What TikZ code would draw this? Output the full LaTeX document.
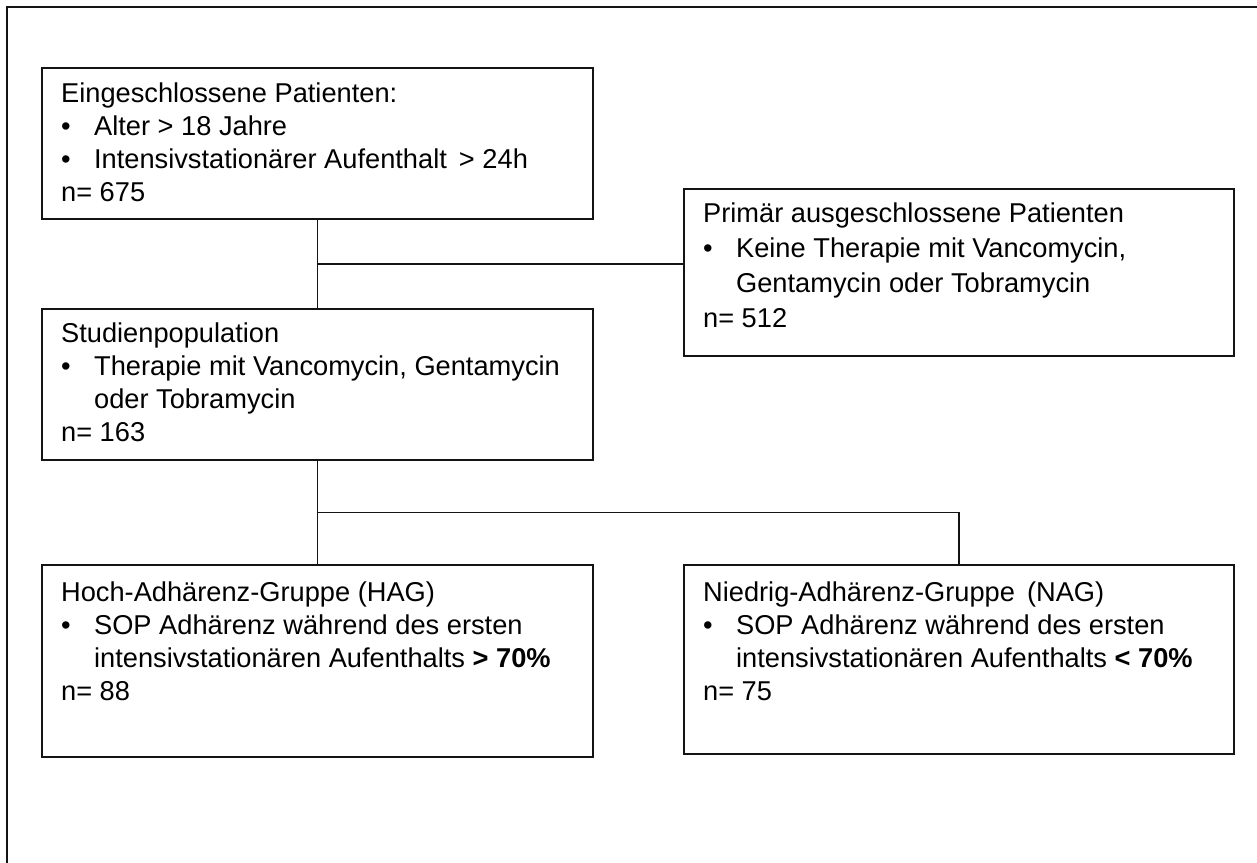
\documentclass[tikz,border=0pt]{standalone}
\usepackage{fontspec}
\setmainfont{Liberation Sans}
\usetikzlibrary{calc}
\definecolor{linegray}{HTML}{141414}
\newcommand{\bul}{\par\hangindent=6.6mm\hangafter=1\makebox[6.6mm][l]{\textbullet}}
\newcommand{\boxtext}[5][18.8pt]{%
  \begin{minipage}[c][#3][t]{#2}%
    \vspace*{#4}\fontsize{15.5}{#1}\selectfont\raggedright\strut #5%
  \end{minipage}}

\begin{document}
\begin{tikzpicture}[x=0.2mm, y=-0.2mm,
    flowbox/.style={draw=linegray, line width=1.3pt, anchor=north west,
                    inner xsep=3.8mm, inner ysep=0pt},
    link/.style={draw=linegray, line width=0.9pt}]
  \useasboundingbox (0,0) rectangle (1257,863);

  %% Outer frame (cut off at right and bottom)
  \draw[linegray, line width=1.3pt] (1257,7) -- (7,7) -- (7,863);

  %% Boxes
  \node[flowbox] (incl) at (41,67) {\boxtext{102.6mm}{30.2mm}{2.2mm}{%
    Eingeschlossene Patienten:
    \bul Alter > 18 Jahre
    \bul Intensivstationärer Aufenthalt \,> 24h
    \par n= 675}};

  \node[flowbox] (excl) at (683,188) {\boxtext[19.9pt]{102.4mm}{33.4mm}{1.8mm}{%
    Primär ausgeschlossene Patienten
    \bul Keine Therapie mit Vancomycin,\newline Gentamycin oder Tobramycin
    \par n= 512}};

  \node[flowbox] (study) at (41,308) {\boxtext{102.6mm}{30.2mm}{2.1mm}{%
    Studienpopulation
    \bul Therapie mit Vancomycin, Gentamycin\newline oder Tobramycin
    \par n= 163}};

  \node[flowbox] (high) at (41,564) {\boxtext{102.6mm}{38.4mm}{2.7mm}{%
    Hoch-Adhärenz-Gruppe (HAG)
    \bul SOP Adhärenz während des ersten\newline intensivstationären Aufenthalts \textbf{> 70\%}
    \par n= 88}};

  \node[flowbox] (low) at (683,564) {\boxtext{102.4mm}{37.8mm}{2.7mm}{%
    Niedrig-Adhärenz-Gruppe \,(NAG)
    \bul SOP Adhärenz während des ersten\newline intensivstationären Aufenthalts \textbf{< 70\%}
    \par n= 75}};

  %% Junctions
  \coordinate (j1) at ($(incl.south)!0.5!(study.north)$);
  \coordinate (j2) at ($(study.south)!0.5!(high.north)$);

  %% Connectors
  \draw[link] (incl.south) -- (study.north);
  \draw[link] (j1) -- (excl.west |- j1);
  \draw[link] (study.south) -- (high.north);
  \draw[link] (j2) -- (j2 -| low.north) -- (low.north);
\end{tikzpicture}
\end{document}
